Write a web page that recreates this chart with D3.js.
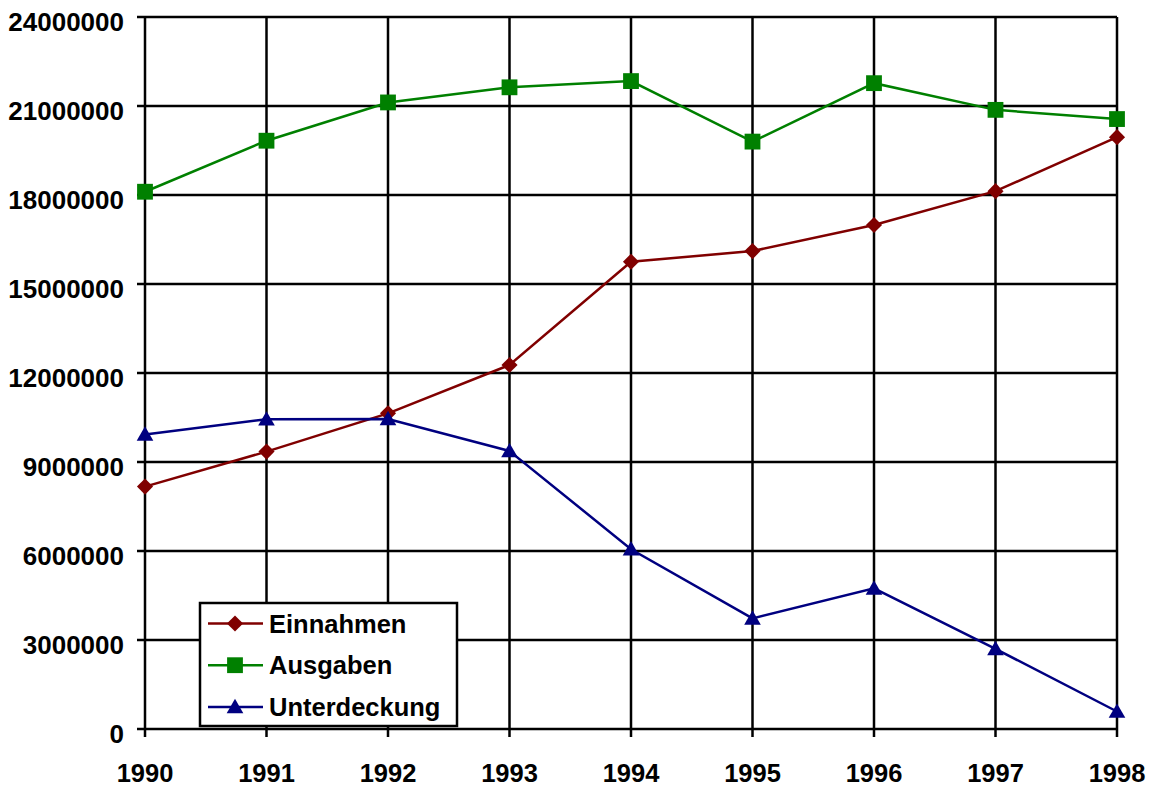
<!DOCTYPE html>
<html lang="de">
<head>
  <meta charset="utf-8"/>
  <script src="https://d3js.org/d3.v7.min.js"></script>
  <style>
    body { margin: 0; background: #fff; }
    svg { display: block; }
    .lbl { font-family: "Liberation Sans", Arial, sans-serif; font-weight: bold; fill: #000; }
  </style>
</head>
<body>
<div id="chart"></div>
<script>
  // data
  const years = [1990, 1991, 1992, 1993, 1994, 1995, 1996, 1997, 1998];
  const einnahmen    = [8170000, 9350000, 10640000, 12270000, 15750000, 16110000, 16990000, 18130000, 19950000];
  const ausgaben     = [18110000, 19830000, 21120000, 21630000, 21840000, 19800000, 21770000, 20870000, 20560000];
  const unterdeckung = [9930000, 10440000, 10450000, 9370000, 6060000, 3730000, 4740000, 2700000, 590000];
  const yTicks = [0, 3000000, 6000000, 9000000, 12000000, 15000000, 18000000, 21000000, 24000000];
  const seriesNames = ["Einnahmen", "Ausgaben", "Unterdeckung"];

  const width = 1153, height = 788;
  const svg = d3.select("#chart").append("svg")
    .attr("width", width).attr("height", height);

  const x = d3.scaleLinear().domain([1990, 1998]).range([145, 1117]);
  const y = d3.scaleLinear().domain([0, 24000000]).range([729, 17]);

  // diamond = square turned by 45 degrees, like the Excel marker
  const series = [
    { name: seriesNames[0], values: einnahmen, color: "#800000", marker: d3.symbolSquare, size: 130, rot: 45, dy: 0 },
    { name: seriesNames[1], values: ausgaben, color: "#008000", marker: d3.symbolSquare, size: 250, rot: 0, dy: 0 },
    { name: seriesNames[2], values: unterdeckung, color: "#000080", marker: d3.symbolTriangle, size: 120, rot: 0, dy: 1.5 }
  ];

  // grid
  const grid = svg.append("g").attr("stroke", "#000").attr("stroke-width", 2.5);
  grid.selectAll("line.h").data(yTicks).enter().append("line")
    .attr("x1", x(1990) - 8).attr("x2", x(1998))
    .attr("y1", d => y(d)).attr("y2", d => y(d));
  grid.selectAll("line.v").data(years).enter().append("line")
    .attr("x1", d => x(d)).attr("x2", d => x(d))
    .attr("y1", y(24000000)).attr("y2", y(0) + 8);

  // axis labels
  svg.append("g").selectAll("text").data(yTicks).enter().append("text")
    .attr("class", "lbl")
    .attr("x", 124).attr("y", d => y(d) + 14)
    .attr("text-anchor", "end")
    .attr("font-size", 26)
    .text(d => d3.format("d")(d));

  svg.append("g").selectAll("text").data(years).enter().append("text")
    .attr("class", "lbl")
    .attr("x", d => x(d)).attr("y", 782)
    .attr("text-anchor", "middle")
    .attr("font-size", 25.5)
    .text(d => d);

  // lines and markers
  const line = d3.line().x((d, i) => x(years[i])).y(d => y(d));
  series.forEach(s => {
    svg.append("path")
      .attr("d", line(s.values))
      .attr("fill", "none")
      .attr("stroke", s.color)
      .attr("stroke-width", 2.5);
    svg.append("g").selectAll("path").data(s.values).enter().append("path")
      .attr("d", d3.symbol().type(s.marker).size(s.size))
      .attr("transform", (d, i) => `translate(${x(years[i])},${y(d) + s.dy}) rotate(${s.rot})`)
      .attr("fill", s.color);
  });

  // legend
  const legend = svg.append("g").attr("transform", "translate(200,603)");
  legend.append("rect")
    .attr("width", 257).attr("height", 123)
    .attr("fill", "#fff").attr("stroke", "#000").attr("stroke-width", 2.5);
  series.forEach((s, i) => {
    const row = legend.append("g").attr("transform", `translate(0,${20.5 + i * 41.7})`);
    row.append("line").attr("x1", 8).attr("x2", 63)
      .attr("stroke", s.color).attr("stroke-width", 2.5);
    row.append("path")
      .attr("d", d3.symbol().type(s.marker).size(s.size))
      .attr("transform", `translate(35,${s.dy}) rotate(${s.rot})`)
      .attr("fill", s.color);
    row.append("text").attr("class", "lbl")
      .attr("x", 69).attr("y", 9)
      .attr("font-size", 25.5)
      .text(s.name);
  });
</script>
</body>
</html>
